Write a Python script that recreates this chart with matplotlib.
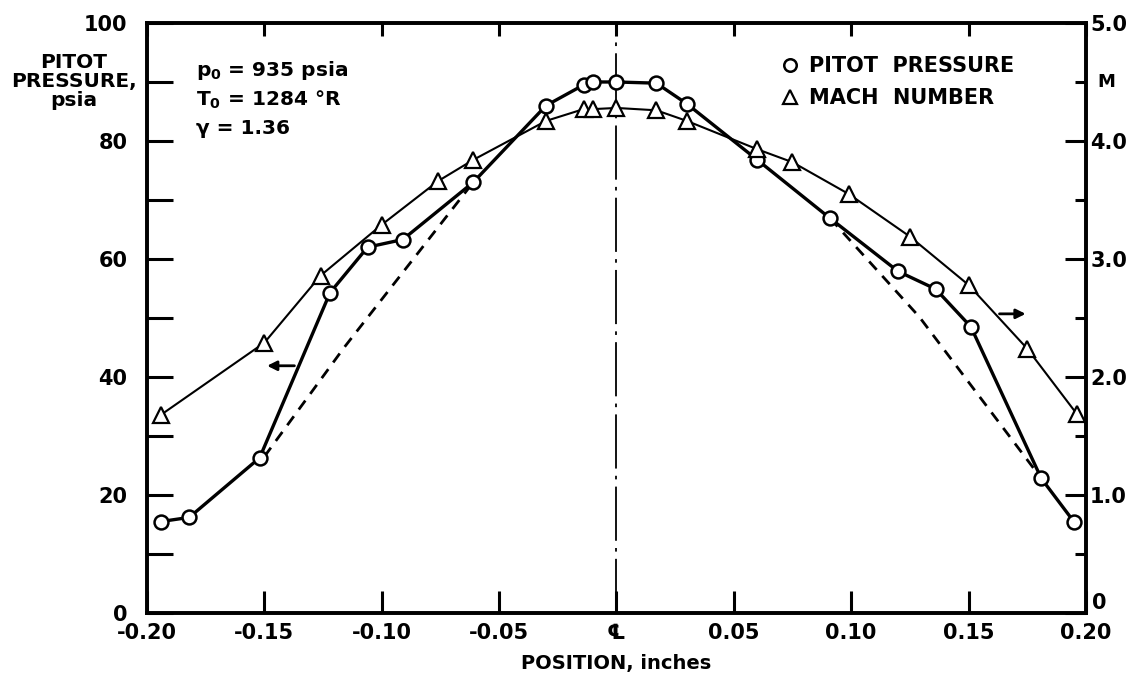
import numpy as np
import matplotlib.pyplot as plt
from matplotlib.lines import Line2D

# pitot pressure survey (psia) across the nozzle exit
pitot_x = [-0.194, -0.182, -0.152, -0.122, -0.106, -0.091, -0.061, -0.030, -0.014,
           -0.010, 0.0, 0.017, 0.030, 0.060, 0.091, 0.120, 0.136, 0.151, 0.181, 0.195]
pitot_p = [15.5, 16.2, 26.3, 54.3, 62.0, 63.3, 73.0, 86.0, 89.5,
           90.0, 90.0, 89.8, 86.3, 76.8, 66.9, 57.9, 54.9, 48.5, 22.8, 15.4]

# mach number (right axis)
mach_x = [-0.194, -0.150, -0.126, -0.100, -0.076, -0.061, -0.030, -0.014, -0.010,
          0.0, 0.017, 0.030, 0.060, 0.075, 0.099, 0.125, 0.150, 0.175, 0.196]
mach_m = [1.68, 2.29, 2.86, 3.29, 3.66, 3.84, 4.17, 4.27, 4.27,
          4.28, 4.26, 4.17, 3.93, 3.82, 3.55, 3.19, 2.78, 2.24, 1.69]

# dashed fairings on the pitot curve
dash_left_x = [-0.150, -0.116, -0.061]
dash_left_p = [26.5, 45.0, 73.0]
dash_right_x = [0.091, 0.129, 0.181]
dash_right_p = [66.9, 50.2, 22.8]

x_ticks = [-0.20, -0.15, -0.10, -0.05, 0.0, 0.05, 0.10, 0.15, 0.20]
x_labels = ['-0.20', '-0.15', '-0.10', '-0.05', '\u2104', '0.05', '0.10', '0.15', '0.20']
p_ticks = [0, 20, 40, 60, 80, 100]
m_ticks = [0, 1, 2, 3, 4, 5]
m_labels = ['', '1.0', '2.0', '3.0', '4.0', '5.0']

plt.rcParams['font.family'] = ['DejaVu Sans']
plt.rcParams['font.weight'] = 'bold'

fig = plt.figure(figsize=(11.34, 6.78), dpi=100)
ax = fig.add_axes([0.1296, 0.0959, 0.828, 0.8702])
ax2 = ax.twinx()

ax.set_xlim(-0.2, 0.2)
ax.set_ylim(0, 100)
ax2.set_ylim(0, 5)

# centre line
ax.axvline(0, color='black', lw=1.3, linestyle=(0, (30, 4, 2, 4)), zorder=1)

ax.plot(dash_left_x, dash_left_p, color='black', lw=2, linestyle=(0, (4, 3)), zorder=2)
ax.plot(dash_right_x, dash_right_p, color='black', lw=2, linestyle=(0, (4, 3)), zorder=2)

ax.plot(pitot_x, pitot_p, color='black', lw=2.4, marker='o', markersize=10,
        markerfacecolor='white', markeredgewidth=1.8, zorder=4)
ax2.plot(mach_x, mach_m, color='black', lw=1.5, marker='^', markersize=11,
         markerfacecolor='white', markeredgewidth=1.6, zorder=3)

# arrows pointing to the right axes
ax.annotate('', xy=(-0.150, 41.9), xytext=(-0.136, 41.9),
            arrowprops=dict(arrowstyle='-|>', color='black', lw=2, mutation_scale=14))
ax.annotate('', xy=(0.1755, 50.7), xytext=(0.162, 50.7),
            arrowprops=dict(arrowstyle='-|>', color='black', lw=2, mutation_scale=14))

for a in (ax, ax2):
    for s in a.spines.values():
        s.set_linewidth(2.6)

ax.set_xticks(x_ticks)
ax.set_xticklabels(x_labels, fontsize=15, fontweight='bold')
ax.set_yticks(p_ticks)
ax.set_yticklabels([str(v) for v in p_ticks], fontsize=15, fontweight='bold')
ax.set_yticks([10, 30, 50, 70, 90], minor=True)
ax.tick_params(axis='y', which='both', direction='in', length=19, width=2.2, pad=14)
ax.tick_params(axis='x', which='major', direction='in', length=16, width=2.2, pad=7,
               top=True)

ax2.set_yticks(m_ticks)
ax2.set_yticklabels(m_labels, fontsize=15, fontweight='bold')
ax2.set_yticks([0.5, 1.5, 2.5, 3.5, 4.5], minor=True)
ax2.tick_params(axis='y', which='major', direction='in', length=15, width=2.2, pad=3)
ax2.tick_params(axis='y', which='minor', direction='in', length=8, width=2.2)
# the right-hand zero sits a little above the 0.20 label
ax2.text(1.006, 0.0, '0', transform=ax2.transAxes, ha='left', va='bottom',
         fontsize=15, fontweight='bold')

# top ticks are shorter
for t in ax.xaxis.get_major_ticks():
    t.tick2line.set_markersize(9)

ax.set_xlabel('POSITION, inches', fontsize=14, fontweight='bold', labelpad=8)

ax.text(-0.2313, 90, 'PITOT\nPRESSURE,\npsia', ha='center', va='center',
        fontsize=14.5, fontweight='bold', linespacing=1.0)
ax2.text(0.2085, 4.5, 'M', ha='center', va='center', fontsize=13, fontweight='bold')

ax.text(-0.179, 92.0, 'p$_\\mathbf{0}$ = 935 psia', fontsize=14.5, fontweight='bold', va='center')
ax.text(-0.179, 87.0, 'T$_\\mathbf{0}$ = 1284 \u00b0R', fontsize=14.5, fontweight='bold', va='center')
ax.text(-0.179, 82.2, '\u03b3 = 1.36', fontsize=14.5, fontweight='bold', va='center')

handles = [Line2D([], [], color='black', marker='o', linestyle='none', markersize=9,
                  markerfacecolor='white', markeredgewidth=1.8),
           Line2D([], [], color='black', marker='^', linestyle='none', markersize=10,
                  markerfacecolor='white', markeredgewidth=1.6)]
ax.legend(handles, ['PITOT  PRESSURE', 'MACH  NUMBER'], loc='upper left',
          bbox_to_anchor=(0.652, 0.975), frameon=False, handletextpad=0.3,
          handlelength=1.2, labelspacing=0.55, prop={'size': 15, 'weight': 'bold'})

fig.savefig('out.png', dpi=100)
